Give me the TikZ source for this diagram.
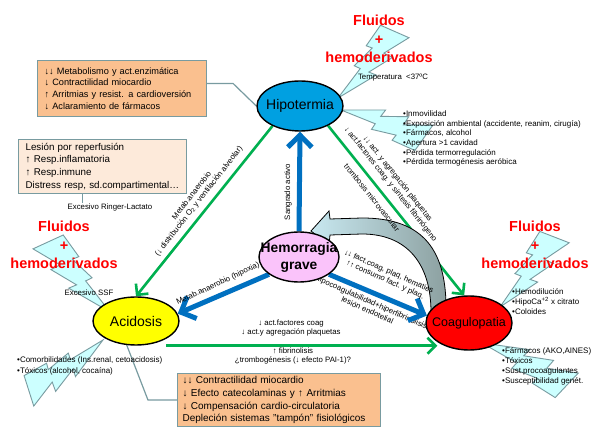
\documentclass[tikz,border=0pt]{standalone}
\usepackage{fontspec}
\setmainfont{Liberation Sans}
\usetikzlibrary{shapes.geometric,arrows.meta,calc}
\pgfdeclarelayer{back}
\pgfdeclarelayer{mid}
\pgfsetlayers{back,mid,main}
\definecolor{hipoblue}{RGB}{0,160,225}
\definecolor{hemopink}{RGB}{250,195,250}
\definecolor{acidyellow}{RGB}{255,255,0}
\definecolor{coagred}{RGB}{255,0,0}
\definecolor{linegreen}{RGB}{0,176,80}
\definecolor{arrowblue}{RGB}{0,112,192}
\definecolor{boxorange}{RGB}{250,192,143}
\definecolor{boxpeach}{RGB}{253,234,218}
\definecolor{boxedge}{RGB}{120,155,160}
\definecolor{boltfill}{RGB}{204,255,255}
\definecolor{curvegray}{RGB}{140,160,160}
\definecolor{curveblue}{RGB}{200,232,240}
\definecolor{fluidred}{RGB}{255,0,0}
\newcommand\boltshape[1]{%
  \begin{scope}[#1]
    \filldraw[boltstyle] (-0.6078,-1) -- (-0.4046,-0.7185) -- (-0.4884,-0.6853) -- (-0.2325,-0.4441) -- (-0.3163,-0.4038) -- (0,0) -- (-0.5365,-0.3095) -- (-0.4342,-0.3525) -- (-0.7675,-0.5507) -- (-0.6481,-0.6119) -- (-1,-0.8199) -- cycle;
  \end{scope}}
\begin{document}
\begin{tikzpicture}[x=1pt,y=-1pt,
 ell/.style={ellipse, draw=black, line width=1.4pt, inner sep=0pt},
 elltext/.style={font=\fontsize{14}{16}\selectfont, inner sep=0pt, align=center},
 greenarrow/.style={draw=linegreen, line width=2.6pt, -{Straight Barb[length=8pt,width=16pt]}},
 bluearrow/.style={draw=arrowblue, line width=5pt, -{Straight Barb[length=12pt,width=24pt]}},
 lbl/.style={font=\fontsize{7.8}{9}\selectfont, inner sep=0pt, align=center},
 listtxt/.style={font=\fontsize{8}{9.7}\selectfont, inner sep=0pt, align=left, anchor=north west},
 fluid/.style={font=\fontsize{14.5}{18.5}\selectfont\bfseries, text=fluidred, align=center, inner sep=0pt},
 infobox/.style={draw=boxedge, line width=1.2pt, anchor=north west, align=left, inner xsep=7pt, inner ysep=0pt},
 conn/.style={draw=boxedge, line width=1.2pt},
 boltstyle/.style={fill=boltfill, draw=boxedge, line width=0.9pt, line join=miter},
 curvearrow/.style={draw=black, line width=0.8pt, left color=curveblue, right color=curvegray},
]
\useasboundingbox (0,0) rectangle (592,427);
\begin{pgfonlayer}{back}
\fill[white] (0,0) rectangle (592,427);
\boltshape{shift={(338,98)},rotate=1,xscale=-1,scale=72}
\boltshape{shift={(341,110)},rotate=210,scale=72}
\boltshape{shift={(110,312)},rotate=0,scale=77}
\boltshape{shift={(103,340)},rotate=83,scale=74}
\boltshape{shift={(500,307)},rotate=3.5,xscale=-1,scale=73}
\boltshape{shift={(482,343)},rotate=202,scale=78}
\end{pgfonlayer}

% ellipses
\node[ell, fill=hipoblue, minimum width=86pt, minimum height=50pt] (hipo) at (300,106) {};
\node[elltext] (hipot) at (hipo.center) {Hipotermia};
\node[ell, fill=hemopink, minimum width=80pt, minimum height=50pt] (hemo) at (299,257) {};
\node[elltext, font=\fontsize{13.8}{17}\selectfont\bfseries] (hemot) at (hemo.center) {Hemorragia\\grave};
\node[ell, fill=acidyellow, minimum width=86pt, minimum height=48pt] (acid) at (136,321) {};
\node[elltext] (acidt) at (acid.center) {Acidosis};
\node[ell, fill=coagred, minimum width=86pt, minimum height=54pt] (coag) at (469,323) {};
\node[elltext, font=\fontsize{12.5}{16}\selectfont] (coagt) at (coag.center) {Coagulopatia};

% boxes
\node[infobox, fill=boxorange, minimum width=169pt, minimum height=56pt, text width=155pt, font=\fontsize{9.2}{11.7}\selectfont] (tbox) at (37,60) {↓↓ Metabolismo y act.enzimática\\↓ Contractilidad miocardio\\↑ Arritmias y resist. a cardioversión\\↓ Aclaramiento de fármacos};
\node[infobox, fill=boxpeach, minimum width=168pt, minimum height=54pt, text width=154pt, font=\fontsize{9.8}{12.7}\selectfont] (lbox) at (18,139) {Lesión por reperfusión\\↑ Resp.inflamatoria\\↑ Resp.inmune\\Distress resp, sd.compartimental…};
\node[infobox, fill=boxorange, inner xsep=5pt, minimum width=203pt, minimum height=53pt, text width=193pt, font=\fontsize{10}{12.7}\selectfont] (bbox) at (177,373) {↓↓ Contractilidad miocardio\\↓ Efecto catecolaminas y ↑ Arritmias\\↓ Compensación cardio-circulatoria\\Depleción sistemas "tampón" fisiológicos};

% red texts
\node[fluid] (fl1) at (379,39) {Fluidos\\+\\hemoderivados};
\node[fluid] (fl2) at (64,245) {Fluidos\\+\\hemoderivados};
\node[fluid] (fl3) at (535,245) {Fluidos\\+\\hemoderivados};

% small labels
\node[lbl] (temp) at (393,78) {Temperatura\ \ <37ºC};
\node[lbl] (rl) at (110,207) {Excesivo Ringer-Lactato};
\node[lbl] (ssf) at (89,293) {Excesivo SSF};
\node[listtxt] (hlist) at (403,110.5) {•Inmovilidad\\•Exposición ambiental (accidente, reanim, cirugía)\\•Fármacos, alcohol\\•Apertura >1 cavidad\\•Pérdida termorregulación\\•Pérdida termogénesis aeróbica};
\node[listtxt, font=\fontsize{8}{10}\selectfont] (clist1) at (512,288.5) {•Hemodilución\\•HipoCa\textsuperscript{+2} x citrato\\•Coloides};
\node[listtxt, font=\fontsize{8}{10}\selectfont] (clist2) at (502,347.5) {•Fármacos (AKO,AINES)\\•Tóxicos\\•Sust.procoagulantes\\•Susceptibilidad genét.};
\node[listtxt, font=\fontsize{8}{11}\selectfont] (alist) at (17,356.5) {•Comorbilidades (Ins.renal, cetoacidosis)\\•Tóxicos (alcohol, cocaína)};

\node[lbl, rotate=52] (lg1) at (195.5,198.5) {Metab.anaerobio\\(↓ distribución O\textsubscript{2} y ventilación alveolar)};
\node[lbl, rotate=-51.5] (lg2) at (394,181.5) {↓↓ act. y agregación plaquetas\\↓ act.factores coag. y síntesis fibrinógeno};
\node[lbl, rotate=-51.5] (lg3) at (372,197.5) {trombosis microvascular};
\node[lbl] (lg4) at (291,327.5) {↓ act.factores coag\\↓ act.y agregación plaquetas};
\node[lbl] (lg5) at (293,356) {↑ fibrinolisis\\¿trombogénesis (↓ efecto PAI-1)?};
\node[lbl, rotate=90] (lb1) at (288,192) {Sangrado activo};
\node[lbl, rotate=25] (lb2) at (218,284) {Metab.anaerobio (hipoxia)};
\node[lbl, rotate=-24] (lb3) at (387,276) {↓↓ fact.coag, plaq, hematies\\↑↑ consumo fact. y plaq.};

\begin{pgfonlayer}{mid}
\node[lbl, rotate=-24] (lb4) at (369.3,306) {Hipocoagulabilidad+hiperfibrinolisis\\lesión endotelial};
\draw[conn] ([yshift=5pt]tbox.east) -- ++(26,0) -- (hipo.west);
\draw[conn] ([xshift=-20pt]lbox.south) -- ([xshift=-20pt]lbox.south |- rl.north);
\draw[conn] (acid.249) -- ([xshift=-29pt]bbox.west) -- (bbox.west);
\draw[greenarrow] (hipo.216) -- (acid.north);
\draw[greenarrow] (hipo.-35) -- (coag.100);
\draw[greenarrow] ([xshift=30pt]acid.south) -- ([xshift=12pt]coag.west |- acid.south);
\draw[bluearrow] (hemo.north) -- (hipo.south);
\draw[bluearrow] (hemo.210) -- (acid.10);
\draw[bluearrow] (hemo.-30) -- (coag.170);
\draw[curvearrow] (446,312) .. controls (447,252) and (425,218) .. (362,218) -- (330,219) -- (329,211) -- (311,231) -- (329,245) -- (330,235) -- (362,234) .. controls (408,234) and (431,265) .. (431,312) -- cycle;
\end{pgfonlayer}
\end{tikzpicture}
\end{document}
